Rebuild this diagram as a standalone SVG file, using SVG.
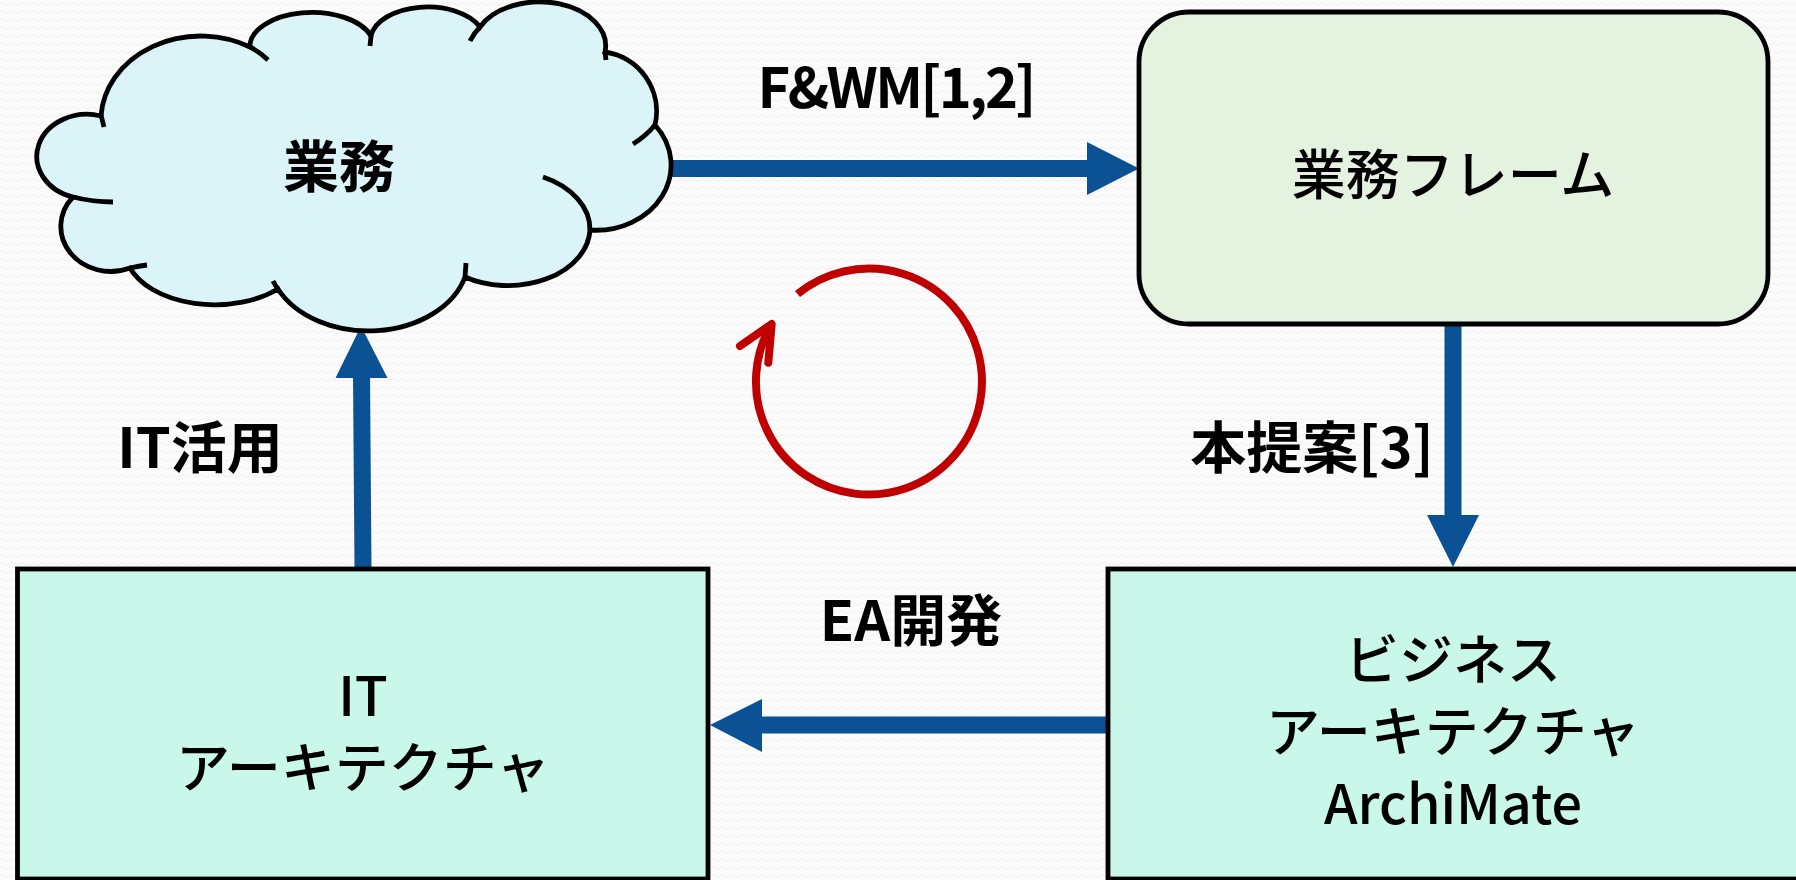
<svg xmlns="http://www.w3.org/2000/svg" width="1796" height="880" viewBox="0 0 1796 880">
  <style>
    .jp { font-family: "Noto Sans CJK JP", "Noto Sans", sans-serif; fill: #000; }
    .lbl { font-size: 56px; font-weight: 700; text-anchor: middle; }
    .box-t { font-size: 54px; font-weight: 500; text-anchor: middle; }
    .outline { stroke: #000; stroke-width: 4.8; }
    .tick { fill: none; stroke: #000; stroke-width: 4.8; }
    .conn { stroke: #0b5294; stroke-width: 17; fill: none; }
    .head { fill: #0b5294; }
    .cycle { fill: none; stroke: #c00000; stroke-width: 8; }
  </style>
  <defs>
    <pattern id="bg" width="10" height="8" patternUnits="userSpaceOnUse">
      <path d="M0,4 Q2.5,1.5 5,4 T10,4" fill="none" stroke="#ededed" stroke-width="0.9"/>
    </pattern>
  </defs>

  <rect x="0" y="0" width="1796" height="880" fill="#fbfbfb"/>
  <rect x="0" y="0" width="1796" height="880" fill="url(#bg)"/>

  <g id="connectors">
    <line class="conn" x1="672" y1="168.5" x2="1090" y2="168.5"/>
    <polygon class="head" points="1087,142 1139,168.5 1087,195"/>
    <line class="conn" x1="1453" y1="322" x2="1453" y2="518"/>
    <polygon class="head" points="1427,515 1479,515 1453,567"/>
    <line class="conn" x1="1108" y1="725" x2="759" y2="725"/>
    <polygon class="head" points="762,699 710,725 762,752"/>
    <line class="conn" x1="363" y1="569" x2="361.5" y2="374"/>
    <polygon class="head" points="335.5,378 361,326 387.5,378"/>
  </g>

  <g id="node-gyomu">
    <path class="outline" fill="#dbf4f8" d="M101,116 A100,85 0 0 1 250,47 A62,34 0 0 1 371,36 A57,33 0 0 1 480,27 A66,44 0 0 1 605,52 A60,60 0 0 1 655,125 A75,65 0 0 1 590,230 A82,58 0 0 1 465,277 A100,73 0 0 1 278,289 A90,55 0 0 1 130,268 A50,45 0 0 1 73,197 A50,42 0 0 1 101,116 Z"/>
    <path class="tick" d="M101,115 L104,127"/>
    <path class="tick" d="M250,47 Q260,52 268,60"/>
    <path class="tick" d="M371,36 L370,46"/>
    <path class="tick" d="M480,27 Q474,33 470,41"/>
    <path class="tick" d="M605,52 L606,60"/>
    <path class="tick" d="M655,125 Q646,136 633,144"/>
    <path class="tick" d="M543,177 A82,58 0 0 1 590,230"/>
    <path class="tick" d="M466,263 L465,277"/>
    <path class="tick" d="M278,289 Q275,285 273,281"/>
    <path class="tick" d="M130,268 Q139,266 147,265"/>
    <path class="tick" d="M73,197 Q93,202 113,202"/>
    <text class="jp lbl" x="339" y="187">業務</text>
  </g>

  <g id="node-gyomu-frame">
    <rect class="outline" x="1139" y="12" width="629" height="312" rx="50" ry="50" fill="#e4f3e0"/>
    <text class="jp box-t" x="1453" y="195">業務フレーム</text>
  </g>

  <g id="node-it-arch">
    <rect class="outline" x="17.5" y="569" width="690.5" height="310" fill="#c9f8ea"/>
    <text class="jp box-t" x="363" y="716">IT</text>
    <text class="jp box-t" x="363" y="788">アーキテクチャ</text>
  </g>

  <g id="node-biz-arch">
    <rect class="outline" x="1108" y="569" width="694" height="310" fill="#c9f8ea"/>
    <text class="jp box-t" x="1453" y="680">ビジネス</text>
    <text class="jp box-t" x="1453" y="752">アーキテクチャ</text>
    <text class="jp box-t" x="1453" y="824">ArchiMate</text>
  </g>

  <g id="cycle">
    <path class="cycle" d="M797.5,294 A113,113 0 1 1 771.7,324"/>
    <path class="cycle" d="M740,346 L771.7,324 L768.3,362.7" stroke-linecap="round" stroke-linejoin="round"/>
  </g>

  <g id="labels">
    <text class="jp lbl" x="897" y="108" textLength="279">F&amp;WM[1,2]</text>
    <text class="jp lbl" x="1312" y="468">本提案[3]</text>
    <text class="jp lbl" x="200" y="468">IT活用</text>
    <text class="jp lbl" x="911" y="641">EA開発</text>
  </g>
</svg>
